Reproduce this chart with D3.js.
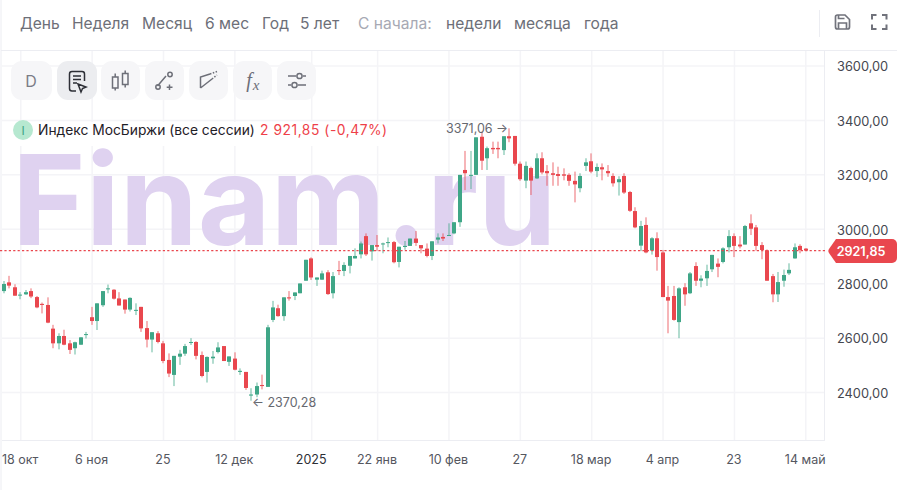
<!DOCTYPE html>
<html><head><meta charset="utf-8">
<script src="https://cdn.jsdelivr.net/npm/d3@7/dist/d3.min.js"></script>
<style>html,body{margin:0;padding:0;background:#fff;overflow:hidden}svg{display:block}text{font-family:Inter,"Noto Sans",sans-serif}</style>
</head><body><svg id="c" width="897" height="490"></svg>
<script>
const opens=[2773,2805,2787,2758,2761,2773,2751,2726,2722,2635,
2581,2608,2581,2563,2576,2613,2677,2663,2721,2780,
2778,2746,2742,2705,2701,2715,2637,2595,2618,2581,
2520,2465,2532,2543,2584,2586,2538,2476,2526,2549,
2571,2513,2525,2476,2476,2389,2393,2428,2421,2667,
2710,2681,2750,2755,2765,2811,2893,2815,2815,2842,
2765,2850,2847,2866,2893,2908,2975,2919,2942,2945,
2950,2953,2880,2935,2939,2966,2942,2929,2902,2962,
2972,2977,2985,3026,3218,3197,3200,3340,3261,3299,
3299,3291,3342,3343,3241,3179,3225,3187,3261,3214,
3206,3203,3202,3200,3178,3151,3233,3250,3214,3228,
3214,3196,3173,3196,3137,3067,2940,3016,2922,2967,
2915,2751,2755,2659,2787,2765,2865,2811,2820,2853,
2874,2880,2934,2975,2944,2944,3022,3007,2942,2923,
2828,2761,2811,2838,2893,2939,2929];
const highs=[2810,2829,2798,2769,2777,2783,2755,2731,2750,2649,
2618,2631,2593,2587,2604,2623,2715,2728,2773,2797,
2780,2769,2742,2750,2728,2715,2663,2622,2626,2590,
2544,2535,2557,2579,2600,2589,2551,2533,2553,2585,
2571,2533,2548,2489,2476,2416,2437,2466,2649,2737,
2723,2750,2773,2768,2801,2888,2897,2823,2848,2850,
2843,2884,2879,2902,2930,2955,2985,2942,2979,2951,
2970,2957,2936,2957,2966,2994,2942,2948,2956,2985,
2985,3022,3026,3200,3288,3288,3338,3359,3304,3322,
3322,3342,3371.06,3343,3249,3249,3230,3279,3283,3236,
3246,3230,3224,3206,3212,3206,3261,3279,3242,3242,
3236,3206,3195,3206,3141,3081,3031,3044,2971,2989,
2924,2792,2792,2787,2802,2843,2879,2831,2870,2906,
2893,2934,2997,2985,2975,3016,3055,3016,2953,2926,
2836,2843,2852,2875,2948,2945,2931];
const lows=[2765,2783,2756,2743,2759,2747,2710,2691,2655,2563,
2559,2574,2542,2540,2575,2599,2649,2630,2715,2765,
2742,2720,2690,2698,2685,2623,2566,2548,2581,2508,
2457,2424,2502,2535,2575,2522,2456,2437,2506,2544,
2516,2498,2482,2465,2410,2370.28,2383,2412,2421,2659,
2679,2664,2738,2740,2765,2811,2814,2792,2814,2759,
2746,2832,2828,2838,2893,2893,2902,2885,2921,2912,
2934,2875,2860,2925,2939,2939,2912,2897,2887,2948,
2957,2977,2982,3009,3144,3148,3200,3218,3218,3277,
3261,3273,3320,3234,3178,3151,3126,3185,3202,3160,
3160,3160,3180,3160,3099,3136,3214,3206,3192,3180,
3193,3157,3124,3130,3064,3004,2920,2912,2907,2848,
2751,2618,2664,2600,2719,2762,2792,2787,2792,2843,
2824,2875,2915,2898,2930,2944,2979,2922,2890,2811,
2732,2733,2789,2832,2892,2912,2920];
const closes=[2799,2793,2756,2760,2769,2753,2713,2722,2657,2581,
2608,2576,2557,2585,2603,2615,2663,2728,2773,2783,
2745,2720,2705,2748,2704,2636,2595,2622,2586,2516,
2470,2535,2543,2571,2586,2535,2461,2531,2532,2566,
2516,2533,2484,2480,2417,2393,2424,2424,2640,2713,
2681,2750,2746,2768,2801,2888,2823,2823,2838,2762,
2828,2847,2869,2902,2902,2948,2908,2942,2936,2948,
2953,2879,2936,2939,2966,2950,2930,2902,2956,2970,
2966,2979,3026,3200,3206,3200,3338,3252,3298,3294,
3294,3342,3334,3241,3184,3233,3179,3261,3209,3206,
3200,3196,3197,3178,3165,3196,3246,3212,3229,3220,
3206,3169,3184,3135,3068,3007,3012,2915,2967,2898,
2751,2738,2667,2783,2761,2838,2811,2819,2847,2906,
2862,2930,2975,2939,2937,3012,3002,2939,2924,2811,
2761,2806,2832,2851,2934,2924,2921.85];
const xTickIndex=[3,16,29,42,56,68,81,94,107,120,133,146];
const xTickLabels=["18 окт","6 ноя","25","12 дек","2025","22 янв","10 фев","27","18 мар","4 апр","23","14 май"];
const yTicks=[2400,2600,2800,3000,3200,3400,3600];
const lastPrice=2921.85;
const highMark={index:92,value:3371.06};
const lowMark={index:45,value:2370.28};
const periods=["День","Неделя","Месяц","6 мес","Год","5 лет"];
const periodX=[20,72,142,205,262,300];
const sinceLabels=["С начала:","недели","месяца","года"];
const sinceX=[358,446,514,584];

const GREEN="#3fa687",RED="#e9474e",GRID="#f4f4f7",EDGE="#ecedf2";
const svg=d3.select("#c");
const x=d3.scaleLinear().domain([0,146]).range([4,805.5]);
const y=d3.scaleLinear().domain([2400,3600]).range([392.6,66]);
const ruLocale=d3.formatLocale({decimal:",",thousands:" ",grouping:[3],currency:["","₽"]});
const fmt=ruLocale.format(".2f");

svg.append("rect").attr("width",897).attr("height",490).attr("fill","#fff");

// grid
const plot=svg.append("g");
plot.selectAll("line.h").data(yTicks).join("line").attr("x1",2).attr("x2",824)
  .attr("y1",d=>y(d)).attr("y2",d=>y(d)).attr("stroke",GRID).attr("stroke-width",1.5);
plot.selectAll("line.v").data(xTickIndex).join("line").attr("y1",51).attr("y2",440)
  .attr("x1",d=>x(d)+.3).attr("x2",d=>x(d)+.3).attr("stroke",GRID).attr("stroke-width",1.5);

// watermark
svg.append("text").attr("x",12).attr("y",245).attr("font-size",125.5).attr("font-weight",700)
  .attr("fill","#dfd2f0").style("font-family","Inter").text("Finam.ru");

// borders
svg.append("line").attr("x1",1).attr("x2",1).attr("y1",0).attr("y2",490).attr("stroke",EDGE);
svg.append("line").attr("x1",1).attr("x2",897).attr("y1",50.5).attr("y2",50.5).attr("stroke",EDGE);
svg.append("line").attr("x1",2).attr("x2",824).attr("y1",440.5).attr("y2",440.5).attr("stroke",EDGE);
svg.append("line").attr("x1",824.5).attr("x2",824.5).attr("y1",51).attr("y2",441).attr("stroke",EDGE);
svg.append("line").attr("x1",819.5).attr("x2",819.5).attr("y1",10).attr("y2",37).attr("stroke",EDGE);

// legend backdrop
svg.append("rect").attr("x",2).attr("y",122).attr("width",388).attr("height",24).attr("fill","#fff");

// candles
const idx=d3.range(opens.length);
const left=i=>Math.round(x(i))-2;
const col=i=>closes[i]>=opens[i]?GREEN:RED;
const cg=svg.append("g");
cg.selectAll("rect.w").data(idx).join("rect").attr("class","w")
  .attr("x",i=>left(i)+1.5).attr("width",1)
  .attr("y",i=>y(highs[i])).attr("height",i=>y(lows[i])-y(highs[i]))
  .attr("fill",col).attr("opacity",.8);
cg.selectAll("rect.b").data(idx).join("rect").attr("class","b")
  .attr("x",left).attr("width",4)
  .attr("y",i=>y(Math.max(opens[i],closes[i])))
  .attr("height",i=>Math.max(1,Math.abs(y(opens[i])-y(closes[i]))))
  .attr("fill",col);

// price line
svg.append("line").attr("x1",0).attr("x2",826).attr("y1",y(lastPrice)).attr("y2",y(lastPrice))
  .attr("stroke",RED).attr("stroke-width",1.2).attr("stroke-dasharray","2.2 2.2");

// y axis
const yAxis=svg.append("g").attr("transform","translate(825,0.6)")
  .call(d3.axisRight(y).tickValues(yTicks).tickSize(0).tickPadding(12).tickFormat(fmt));
yAxis.select(".domain").remove();
yAxis.selectAll("text").attr("font-size",12.8).attr("fill","#45474f").style("font-family","Inter");

// x axis
const xAxis=svg.append("g").attr("transform","translate(0,441)")
  .call(d3.axisBottom(x).tickValues(xTickIndex).tickSize(0).tickPadding(14.5)
    .tickFormat(d=>xTickLabels[xTickIndex.indexOf(d)]));
xAxis.select(".domain").remove();
xAxis.selectAll("text").attr("font-size",12.5).attr("dx",-0.8).attr("fill",d=>d===56?"#2d2f36":"#55575f").style("font-family","Inter");

// price tag
svg.append("path").attr("d","M836 239H892a5 5 0 0 1 5 5V258a5 5 0 0 1 -5 5H836L829 253a3.5 3.5 0 0 1 0 -4Z").attr("fill",RED);
svg.append("text").attr("x",861).attr("y",255.5).attr("text-anchor","middle").attr("font-size",12.6)
  .attr("font-weight",600).attr("fill","#fff").text(fmt(lastPrice));

// extreme marks
const ann=svg.append("g").attr("fill","#66686f").attr("font-size",12.5);
ann.append("text").attr("x",x(highMark.index)-1).attr("y",y(highMark.value)+4.5).attr("text-anchor","end").text(fmt(highMark.value)+" →");
ann.append("text").attr("x",x(lowMark.index)+1).attr("y",y(lowMark.value)+6).text("← "+fmt(lowMark.value));

// legend
svg.append("circle").attr("cx",23).attr("cy",130).attr("r",10).attr("fill","#b6e8d0");
svg.append("text").attr("x",23).attr("y",134.5).attr("text-anchor","middle").attr("font-size",12).attr("fill","#3fa687").text("I");
svg.append("text").attr("x",38).attr("y",135).attr("font-size",13.8).attr("fill","#1f2027").text("Индекс МосБиржи (все сессии)");
svg.append("text").attr("x",260).attr("y",135).attr("font-size",13.8).attr("letter-spacing",.55).attr("fill","#ee3f49").text("2 921,85  (-0,47%)");

// top bar
svg.append("g").selectAll("text").data(periods).join("text")
  .attr("x",(d,i)=>periodX[i]).attr("y",29).attr("font-size",15.6).attr("fill","#6d6f78").text(d=>d);
svg.append("g").selectAll("text").data(sinceLabels).join("text")
  .attr("x",(d,i)=>sinceX[i]).attr("y",29).attr("font-size",15.6).attr("fill",(d,i)=>i?"#6d6f78":"#a7a9b4").text(d=>d);

// toolbar
const btnX=[11,57,101,145,189,233,277],btnW=[41,40,39,39,39,39,39];
svg.append("g").selectAll("rect").data(btnX).join("rect")
  .attr("x",d=>d).attr("y",61).attr("width",(d,i)=>btnW[i]).attr("height",39).attr("rx",11)
  .attr("fill",(d,i)=>i===1?"#ecedf0":"#f6f6f8");
svg.append("text").attr("x",31).attr("y",86.5).attr("text-anchor","middle").attr("font-size",16).attr("fill","#7b7d86").text("D");
const ic=svg.append("g").attr("fill","none").attr("stroke","#6d6f78").attr("stroke-width",1.5);
ic.append("path").attr("stroke","#2d2f36").attr("d","M76 91H72a2.5 2.5 0 0 1 -2.5 -2.5V74a2.5 2.5 0 0 1 2.5 -2.5H82a2.5 2.5 0 0 1 2.5 2.5V81M73 76H81M73 79.5H81M73 83H77M78 84L86 87L82.5 88.5L81 92Z");
ic.append("path").attr("d","M112.5 77H118V88H112.5ZM115.2 73.5V77M115.2 88V90.5M122.5 73.5H128V84.5H122.5ZM125.2 70.5V73.5M125.2 84.5V87.5");
ic.append("path").attr("d","M157.5 86L166 76M169.5 84.5V90M166.7 87.2H172.5");
ic.append("circle").attr("cx",158).attr("cy",87).attr("r",2.2);
ic.append("circle").attr("cx",170).attr("cy",74.5).attr("r",2.2);
ic.append("path").attr("d","M200.5 88V77L210 74M200.5 88L212 79");
ic.append("path").attr("stroke-dasharray","1.5 1.5").attr("d","M210 74L217 71.5M212 79L217 75");
svg.append("text").attr("x",249).attr("y",87).attr("text-anchor","middle").attr("font-size",20).attr("font-style","italic")
  .attr("fill","#6d6f78").style("font-family","Liberation Serif").text("f");
svg.append("text").attr("x",256).attr("y",90).attr("text-anchor","middle").attr("font-size",15).attr("font-style","italic")
  .attr("fill","#6d6f78").style("font-family","Liberation Serif").text("x");
ic.append("path").attr("d","M288 76H296M303 76H306M288 85H291M298 85H306");
ic.append("circle").attr("cx",299.5).attr("cy",76).attr("r",2.6);
ic.append("circle").attr("cx",294.5).attr("cy",85).attr("r",2.6);
const ic2=svg.append("g").attr("fill","none").attr("stroke","#71737c").attr("stroke-width",1.7);
ic2.append("path").attr("d","M835.5 17a2 2 0 0 1 2 -2H845L849.5 19.5V27a2 2 0 0 1 -2 2H837.5a2 2 0 0 1 -2 -2ZM838.5 29V23H846.5V29M838.5 15V18.5H844.5");
ic2.append("path").attr("stroke-width",2).attr("d","M872 19.5V15H876.5M882 15H886.5V19.5M886.5 24.5V29H882M876.5 29H872V24.5");
</script></body></html>
